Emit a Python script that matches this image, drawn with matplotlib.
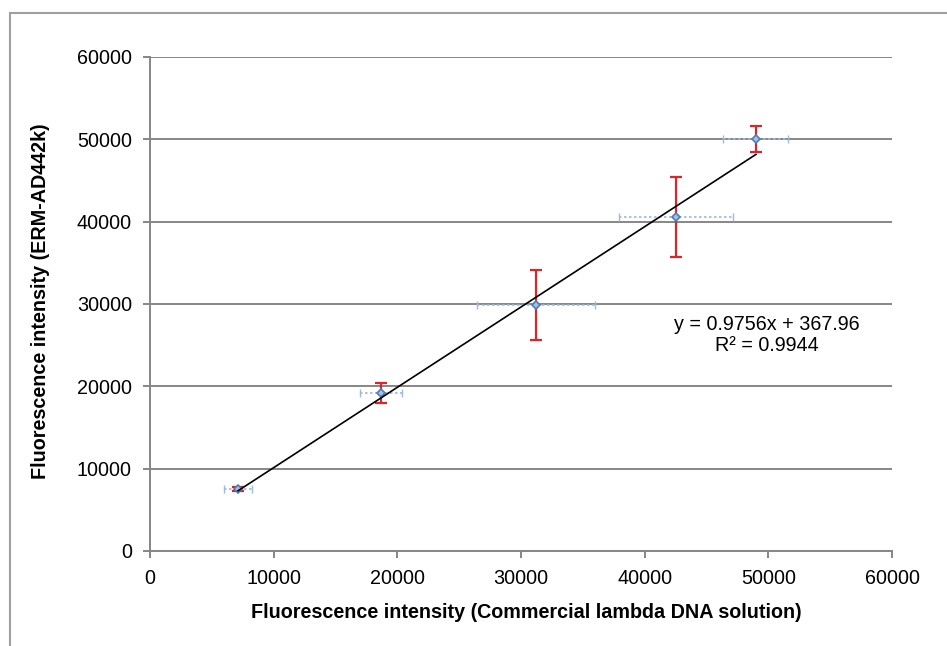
import matplotlib
matplotlib.use("Agg")
import matplotlib.pyplot as plt
import numpy as np
from matplotlib.patches import Rectangle

plt.rcParams['font.family'] = ['Liberation Sans', 'DejaVu Sans']

# Data
x_vals = [7116, 18680, 31213, 42530, 49000]
y_vals = [7530, 19190, 29880, 40570, 50040]
x_err = [1140, 1700, 4770, 4610, 2630]
y_err = [300, 1220, 4250, 4860, 1520]
slope = 0.9756
intercept = 367.96
eq_text = "y = 0.9756x + 367.96\nR² = 0.9944"
ticks = [0, 10000, 20000, 30000, 40000, 50000, 60000]
xlabel = "Fluorescence intensity (Commercial lambda DNA solution)"
ylabel = "Fluorescence intensity (ERM-AD442k)"

W, H = 947, 646
fig = plt.figure(figsize=(W / 100, H / 100), dpi=100)
ax = fig.add_axes([150 / W, 1 - 551 / H, (892 - 150) / W, (551 - 57) / H])

grid_c = '#868686'
ax.set_xlim(0, 60000)
ax.set_ylim(0, 60000)
ax.set_xticks(ticks)
ax.set_yticks(ticks)
ax.set_xticklabels([str(t) for t in ticks])
ax.set_yticklabels([str(t) for t in ticks])
ax.yaxis.grid(True, color=grid_c, linewidth=1.4)
ax.set_axisbelow(True)
for s in ['top', 'right']:
    ax.spines[s].set_visible(False)
for s in ['left', 'bottom']:
    ax.spines[s].set_color(grid_c)
    ax.spines[s].set_linewidth(1.4)
ax.tick_params(axis='both', direction='out', length=5, width=1.4, color=grid_c,
               labelsize=14.2, labelcolor='black')
ax.tick_params(axis='y', pad=8)
ax.tick_params(axis='x', pad=8)

# x error bars (light blue dotted)
eb = ax.errorbar(x_vals, y_vals, xerr=x_err, fmt='none', ecolor='#9DB9DC',
                 elinewidth=1.2, capsize=3, capthick=1.0, zorder=3)
for lc in eb[2]:
    lc.set_linestyle((0, (1.5, 1.5)))
# y error bars (red)
ax.errorbar(x_vals, y_vals, yerr=y_err, fmt='none', ecolor='#D9262B',
            elinewidth=1.6, capsize=4, capthick=1.6, zorder=4)
# markers
ax.plot(x_vals, y_vals, linestyle='none', marker='D', markersize=4,
        markerfacecolor='#A7C0DE', markeredgecolor='#4A7EBB', markeredgewidth=1.2, zorder=5)
# trendline
xl = np.array([min(x_vals), max(x_vals)])
ax.plot(xl, slope * xl + intercept, color='black', linewidth=1.2, zorder=6)

ax.text((767 - 150) / (892 - 150), (551 - 335) / (551 - 57), eq_text, transform=ax.transAxes,
        ha='center', va='center', fontsize=14.2, linespacing=1.1)

fig.text(526 / W, 1 - 612 / H, xlabel, ha='center', va='center', fontsize=14.2, fontweight='bold')
fig.text(40 / W, 1 - 301 / H, ylabel, ha='center', va='center', fontsize=14.2,
         fontweight='bold', rotation=90)

# outer chart border (left and top edges visible)
fig.patches.append(Rectangle((9.5 / W, -0.1), 1.2, 1.1 - 12.5 / H, transform=fig.transFigure,
                             fill=False, edgecolor='#A0A0A0', linewidth=1.5))

fig.savefig('out.png', dpi=100)
